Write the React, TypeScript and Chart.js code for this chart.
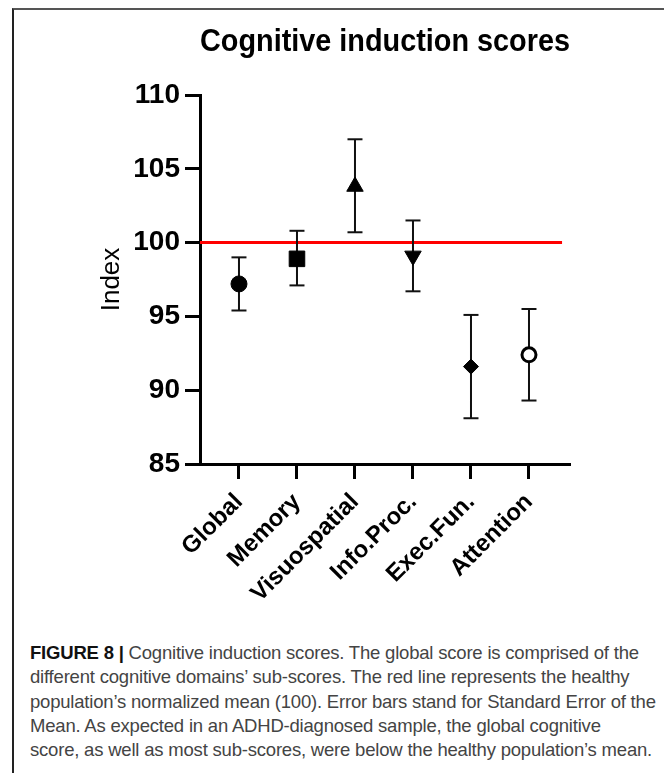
import React, { useEffect, useRef } from "react";
import { Chart, registerables } from "chart.js";

Chart.register(...registerables);

// ---- data ----
const categories = ["Global", "Memory", "Visuospatial", "Info.Proc.", "Exec.Fun.", "Attention"];
const means = [97.2, 98.9, 103.8, 99.1, 91.6, 92.4];
const errLow = [95.4, 97.1, 100.7, 96.7, 88.1, 89.3];
const errHigh = [99.0, 100.8, 107.0, 101.5, 95.1, 95.5];
const referenceMean = 100;
const yMin = 85;
const yMax = 110;
const yStep = 5;
const xMin = -0.672;
const xMax = 5.707;
const refLineEnd = 5.57;

// ---- marker styles ----
const markerStyles = ["circle", "rect", "triangle", "triangle", "rectRot", "circle"];
const markerRotation = [0, 0, 0, 180, 0, 0];
const markerRadius = [8, 11, 9.5, 9.5, 7.5, 7];
const markerFill = ["#000", "#000", "#000", "#000", "#000", "#fff"];
const markerBorderWidth = [1, 1, 1, 1, 1, 3];

const FONT = "'Liberation Sans', Arial, Helvetica, sans-serif";

const W = 654;
const H = 600;

export default function App() {
  const ref = useRef<HTMLCanvasElement | null>(null);

  useEffect(() => {
    if (!ref.current) return;
    const errData: any[] = [];
    categories.forEach((_, i) => {
      errData.push({ x: i, y: errLow[i] });
      errData.push({ x: i, y: errHigh[i] });
      errData.push({ x: i, y: null });
    });
    const chart = new Chart(ref.current, {
      type: "scatter",
      data: {
        datasets: [
          {
            label: "means",
            data: means.map((m, i) => ({ x: i, y: m })),
            order: 0,
            showLine: false,
            pointStyle: markerStyles as any,
            pointRotation: markerRotation,
            pointRadius: markerRadius,
            pointBackgroundColor: markerFill,
            pointBorderColor: "#000",
            pointBorderWidth: markerBorderWidth,
          } as any,
          {
            label: "sem",
            data: errData,
            order: 1,
            showLine: true,
            spanGaps: false,
            borderColor: "#111",
            borderWidth: 2,
            pointStyle: "line",
            pointRadius: 7.5,
            pointBorderColor: "#111",
            pointBorderWidth: 2,
          } as any,
          {
            label: "ref",
            data: [
              { x: xMin, y: referenceMean },
              { x: refLineEnd, y: referenceMean },
            ],
            order: 2,
            showLine: true,
            borderColor: "#ff0000",
            borderWidth: 3,
            pointRadius: 0,
          } as any,
        ],
      },
      options: {
        responsive: false,
        animation: false,
        devicePixelRatio: 1,
        layout: { padding: { left: 0, right: 98, top: 0, bottom: 0 } },
        plugins: {
          legend: { display: false },
          tooltip: { enabled: false },
          title: {
            display: true,
            text: "Cognitive induction scores",
            color: "#000",
            fullSize: false,
            font: { family: FONT, size: 31.5, weight: "bold", lineHeight: 1.2 },
            padding: { top: 13, bottom: 34.2 },
          },
        },
        scales: {
          x: {
            type: "linear",
            position: "bottom",
            min: xMin,
            max: xMax,
            afterBuildTicks: (scale: any) => {
              scale.ticks = categories.map((_, i) => ({ value: i }));
            },
            afterFit: (scale: any) => {
              scale.height = 146;
            },
            ticks: {
              autoSkip: false,
              minRotation: 45,
              maxRotation: 45,
              padding: 9,
              color: "#000",
              font: { family: FONT, size: 24, weight: "bold" },
              callback: (v: any) => categories[Math.round(Number(v))] ?? "",
            },
            grid: {
              display: true,
              drawOnChartArea: false,
              drawTicks: true,
              tickLength: 15,
              tickWidth: 3,
              tickColor: "#000",
            },
            border: { display: true, width: 3, color: "#000" },
          },
          y: {
            type: "linear",
            min: yMin,
            max: yMax,
            afterFit: (scale: any) => {
              scale.width = 186;
            },
            ticks: {
              stepSize: yStep,
              padding: 5,
              color: "#000",
              font: { family: FONT, size: 28, weight: "bold" },
            },
            grid: {
              display: true,
              drawOnChartArea: false,
              drawTicks: true,
              tickLength: 15,
              tickWidth: 3,
              tickColor: "#000",
            },
            border: { display: true, width: 3, color: "#000" },
            title: {
              display: true,
              text: "Index",
              color: "#000",
              font: { family: FONT, size: 26, weight: "normal", lineHeight: 1.2 },
              padding: { top: 82, bottom: 0 },
            },
          },
        },
      } as any,
    });
    return () => chart.destroy();
  }, []);

  const captionStyle: React.CSSProperties = {
    position: "absolute",
    left: 22,
    top: 633,
    fontFamily: FONT,
    fontSize: 18.5,
    lineHeight: "24.3px",
    color: "#444",
    whiteSpace: "nowrap",
    letterSpacing: "-0.2px",
  };

  return (
    <div style={{ position: "relative", width: 656, height: 765 }}>
      <div
        style={{
          position: "absolute",
          left: 4,
          top: 0,
          width: 659,
          height: 765,
          boxSizing: "border-box",
          borderTop: "2px solid #555",
          borderLeft: "2px solid #222",
          borderRight: "2px solid #888",
        }}
      />
      <canvas
        ref={ref}
        width={W}
        height={H}
        style={{ position: "absolute", left: 6, top: 2, width: W, height: H }}
      />
      <div style={captionStyle}>
        <b style={{ color: "#111" }}>FIGURE 8 |</b> Cognitive induction scores. The global score is comprised of the
        <br />
        different cognitive domains’ sub-scores. The red line represents the healthy
        <br />
        population’s normalized mean (100). Error bars stand for Standard Error of the
        <br />
        Mean. As expected in an ADHD-diagnosed sample, the global cognitive
        <br />
        score, as well as most sub-scores, were below the healthy population’s mean.
      </div>
    </div>
  );
}
